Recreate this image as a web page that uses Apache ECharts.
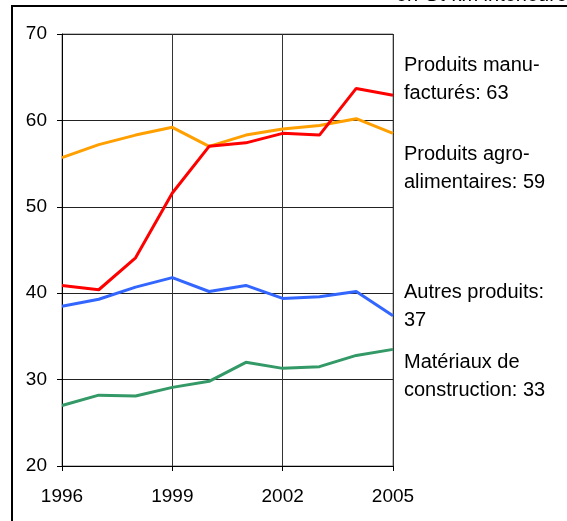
<!DOCTYPE html>
<html>
<head>
<meta charset="utf-8">
<script src="https://cdn.jsdelivr.net/npm/echarts@6/dist/echarts.min.js"></script>
<style>
    html, body { margin: 0; padding: 0; background: #fff; }
    #chart { width: 567px; height: 521px; }
</style>
</head>
<body>
<div id="chart"></div>
<script>
// transport intérieur par type de marchandise, en Gt-km
const years = ['1996', '1997', '1998', '1999', '2000', '2001', '2002', '2003', '2004', '2005'];

const manufactures = [40.9, 40.4, 44.1, 51.6, 57.0, 57.4, 58.5, 58.3, 63.7, 62.9];
const agroAlim     = [55.7, 57.2, 58.3, 59.2, 57.0, 58.3, 59.0, 59.4, 60.2, 58.5];
const autres       = [38.5, 39.3, 40.7, 41.8, 40.2, 40.9, 39.4, 39.6, 40.2, 37.4];
const materiaux    = [27.0, 28.2, 28.1, 29.1, 29.8, 32.0, 31.3, 31.5, 32.8, 33.5];

const endLabels = [
    ['Produits manu-', 'facturés: 63'],
    ['Produits agro-', 'alimentaires: 59'],
    ['Autres produits:', '37'],
    ['Matériaux de', 'construction: 33']
];
const labelTops = [51, 140, 278, 348];

const labelFont = '20px "Liberation Sans", Arial, sans-serif';

const chart = echarts.init(document.getElementById('chart'), null, { renderer: 'canvas' });

function line(name, data, color) {
    return {
        name: name,
        type: 'line',
        data: data,
        symbol: 'none',
        animation: false,
        lineStyle: { color: color, width: 3 },
        itemStyle: { color: color }
    };
}

const graphics = [
    // cadre de la figure
    { type: 'line', shape: { x1: 11, y1: 6, x2: 567, y2: 6 }, style: { stroke: '#000', lineWidth: 2 } },
    { type: 'line', shape: { x1: 12, y1: 5, x2: 12, y2: 521 }, style: { stroke: '#000', lineWidth: 2 } },
    // unité, coupée en haut
    { type: 'text', right: 0, top: -15, style: { text: 'en Gt-km intérieure', font: labelFont, fill: '#000' } }
];
endLabels.forEach(function (lines, i) {
    graphics.push({
        type: 'text',
        left: 404,
        top: labelTops[i],
        style: { text: lines.join('\n'), font: labelFont, lineHeight: 28, fill: '#000' }
    });
});

chart.setOption({
    backgroundColor: '#fff',
    animation: false,
    grid: {
        left: 62, right: 174, top: 34, bottom: 55,
        show: true, borderColor: '#808080', borderWidth: 1
    },
    xAxis: {
        type: 'category',
        data: years,
        boundaryGap: false,
        axisLine: { lineStyle: { color: '#000', width: 1 } },
        axisTick: { interval: 2, length: 5, lineStyle: { color: '#000' } },
        axisLabel: { interval: 2, margin: 21, color: '#000', fontSize: 19, fontFamily: 'Liberation Sans' },
        splitLine: { show: true, interval: 2, lineStyle: { color: '#333', width: 1 } }
    },
    yAxis: {
        type: 'value',
        min: 20, max: 70, interval: 10,
        axisLine: { show: true, lineStyle: { color: '#000', width: 1 } },
        axisTick: { show: true, length: 5, lineStyle: { color: '#000' } },
        axisLabel: { margin: 15, color: '#000', fontSize: 19, fontFamily: 'Liberation Sans' },
        splitLine: { show: true, lineStyle: { color: '#222', width: 1 } }
    },
    series: [
        line('Produits agro-alimentaires', agroAlim, '#ffa000'),
        line('Matériaux de construction', materiaux, '#339966'),
        line('Autres produits', autres, '#3366ff'),
        line('Produits manufacturés', manufactures, '#ff0000')
    ],
    graphic: graphics
});
</script>
</body>
</html>
